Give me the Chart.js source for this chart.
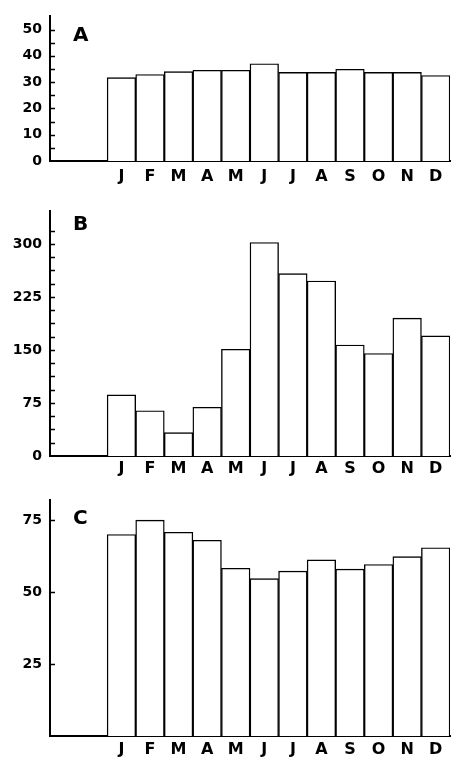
<!DOCTYPE html>
<html>
<head>
<meta charset="utf-8">
<script src="https://cdn.jsdelivr.net/npm/chart.js@4.4.1/dist/chart.umd.min.js"></script>
<style>
  html, body { margin: 0; padding: 0; background: #fff; }
  body { width: 458px; height: 757px; position: relative; overflow: hidden; }
  .panel { position: absolute; left: 0; width: 458px; }
  .panel canvas { display: block; }
</style>
</head>
<body>
<div class="panel" id="pA" style="top:0px;height:195px;"><canvas id="cA"></canvas></div>
<div class="panel" id="pB" style="top:195px;height:285px;"><canvas id="cB"></canvas></div>
<div class="panel" id="pC" style="top:480px;height:277px;"><canvas id="cC"></canvas></div>
<script>
// ---- data ----
const months = ['J', 'F', 'M', 'A', 'M', 'J', 'J', 'A', 'S', 'O', 'N', 'D'];
const leadingEmpty = ['', ''];
const valuesA = [31.7, 32.9, 34.0, 34.5, 34.5, 37.0, 33.7, 33.7, 34.9, 33.7, 33.7, 32.5];
const valuesB = [86.5, 64, 33, 69, 151, 302, 258, 247.5, 157, 145, 195, 170];
const valuesC = [70, 75, 70.8, 68, 58.3, 54.7, 57.3, 61.2, 58, 59.6, 62.3, 65.4];
const tickLabelsA = [0, 10, 20, 30, 40, 50];
const tickLabelsB = [0, 75, 150, 225, 300];
const tickLabelsC = [25, 50, 75];
const panelLetters = ['A', 'B', 'C'];

const FONT = "'DejaVu Sans', 'Liberation Sans', sans-serif";

const innerTicks = {
  id: 'innerTicks',
  afterDraw(chart, args, opts) {
    const y = chart.scales.y;
    const ctx = chart.ctx;
    const left = chart.chartArea.left;
    ctx.save();
    ctx.strokeStyle = '#000';
    ctx.lineWidth = 1.5;
    ctx.beginPath();
    y.ticks.forEach(t => {
      const v = t.value;
      if (v >= y.max - 1e-9) return;
      if (opts.skipZero && v === 0) return;
      const r = v / opts.step;
      if (Math.abs(r - Math.round(r)) > 1e-6) return;
      const py = Math.round(y.getPixelForValue(v)) + 0.5;
      ctx.moveTo(left, py);
      ctx.lineTo(left + opts.len, py);
    });
    ctx.stroke();
    // panel letter
    ctx.fillStyle = '#000';
    ctx.font = 'bold ' + opts.letterSize + 'px ' + FONT;
    ctx.textAlign = 'left';
    ctx.textBaseline = 'middle';
    ctx.fillText(opts.letter, left + opts.letterDx, chart.chartArea.top + opts.letterDy);
    ctx.restore();
  }
};

function makeChart(id, values, cfg) {
  const labels = leadingEmpty.concat(months);
  const data = [null, null].concat(values);
  return new Chart(document.getElementById(id), {
    type: 'bar',
    data: {
      labels: labels,
      datasets: [{
        data: data,
        backgroundColor: '#fff',
        borderColor: '#000',
        borderWidth: 1.4,
        barPercentage: 1,
        categoryPercentage: 1
      }]
    },
    options: {
      responsive: true,
      maintainAspectRatio: false,
      animation: false,
      events: [],
      layout: { padding: { top: cfg.padTop, right: 8, left: 0, bottom: 0 } },
      plugins: {
        legend: { display: false },
        tooltip: { enabled: false },
        innerTicks: {
          step: cfg.step, len: 5, skipZero: cfg.skipZero,
          letter: cfg.letter, letterSize: 20, letterDx: 23, letterDy: cfg.letterDy
        }
      },
      scales: {
        x: {
          type: 'category',
          offset: true,
          grid: { display: false, drawTicks: false },
          border: { display: true, color: '#000', width: 2 },
          ticks: {
            color: '#000',
            font: { family: FONT, size: 16, weight: 'bold' },
            padding: cfg.xPad,
            autoSkip: false,
            maxRotation: 0
          },
          afterFit(scale) { scale.height = cfg.xHeight; }
        },
        y: {
          min: 0,
          max: cfg.max,
          grid: { display: false, drawTicks: false },
          border: { display: true, color: '#000', width: 2 },
          ticks: {
            stepSize: cfg.step,
            color: '#000',
            font: { family: FONT, size: 14, weight: 'bold' },
            padding: 8,
            autoSkip: false,
            callback(v) {
              return cfg.tickLabels.some(t => Math.abs(t - v) < 1e-6) ? String(v) : '';
            }
          },
          afterFit(scale) { scale.width = 50; }
        }
      }
    },
    plugins: [innerTicks]
  });
}

makeChart('cA', valuesA, { padTop: 7, xHeight: 34, xPad: 6, max: 55, step: 5, tickLabels: tickLabelsA, skipZero: true, letter: panelLetters[0], letterDy: 19 });
makeChart('cB', valuesB, { padTop: 13, xHeight: 24, xPad: 3, max: 346, step: 18.75, tickLabels: tickLabelsB, skipZero: true, letter: panelLetters[1], letterDy: 13 });
makeChart('cC', valuesC, { padTop: 20, xHeight: 21, xPad: 4, max: 82, step: 25, tickLabels: tickLabelsC, skipZero: true, letter: panelLetters[2], letterDy: 19 });
</script>
</body>
</html>
